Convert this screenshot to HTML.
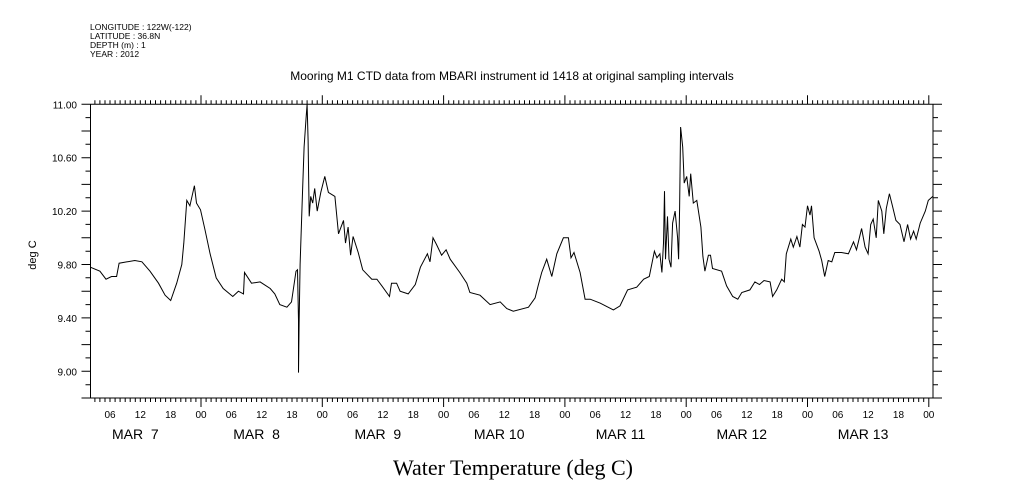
<!DOCTYPE html>
<html><head><meta charset="utf-8">
<style>
body{margin:0;background:#fff;}
svg{display:block;font-family:"Liberation Sans",sans-serif;}
.pre{white-space:pre;}
</style></head>
<body>
<svg id="chart" width="1009" height="504" viewBox="0 0 1009 504" xmlns="http://www.w3.org/2000/svg">
<rect width="1009" height="504" fill="#fff"/>
<g font-size="8.5" fill="#000">
<text x="90" y="30">LONGITUDE : 122W(-122)</text>
<text x="90" y="39">LATITUDE : 36.8N</text>
<text x="90" y="48">DEPTH (m) : 1</text>
<text x="90" y="57">YEAR : 2012</text>
</g>
<text x="512" y="80" font-size="12" text-anchor="middle">Mooring M1 CTD data from MBARI instrument id 1418 at original sampling intervals</text>
<text x="36" y="255" font-size="11" text-anchor="middle" transform="rotate(-90 36 255)">deg C</text>
<text x="513" y="475" font-size="22" text-anchor="middle" font-family="Liberation Serif, serif">Water Temperature (deg C)</text>
<g id="axes"></g>
<path id="series" fill="none" stroke="#000" stroke-width="1"/>
</svg>
<script>
const hours=[2.1,4.0,5.2,6.3,7.3,7.8,10.9,12.3,13.9,15.6,16.9,18.0,19.2,20.2,20.6,21.2,21.8,22.7,23.1,23.9,24.8,25.8,27.0,28.4,30.3,31.4,32.4,32.6,34.0,35.7,37.7,38.6,39.6,41.0,41.9,42.8,43.1,43.3,43.3,43.4,43.6,44.1,44.4,44.8,45.0,45.2,45.4,45.7,46.1,46.5,47.0,47.7,48.5,49.2,50.5,51.2,52.2,52.6,53.1,53.6,54.1,55.1,56.0,57.8,58.8,59.8,61.3,61.7,62.7,63.4,65.0,66.4,67.4,68.8,69.3,69.9,70.6,71.6,72.5,73.3,75.2,76.6,77.2,79.2,81.2,83.2,84.5,85.8,88.8,90.1,90.7,91.4,92.4,93.4,94.4,95.7,96.7,97.2,97.8,99.0,100.0,101.0,103.0,105.6,106.9,108.4,110.2,111.6,112.7,113.7,114.2,114.8,115.2,115.5,115.7,115.9,116.3,116.6,117.0,117.3,117.8,118.3,118.5,118.7,118.9,119.3,119.6,120.1,120.6,120.9,121.4,122.1,122.9,123.3,123.7,124.4,124.8,125.2,127.0,128.0,129.2,130.2,131.0,132.6,133.6,134.5,135.4,136.6,137.1,137.9,138.9,139.4,139.8,140.7,141.2,141.9,142.5,143.0,143.5,144.0,144.5,144.8,145.3,146.3,146.8,147.4,148.1,148.8,149.4,150.7,152.1,153.1,153.7,154.7,155.4,156.0,156.5,157.0,157.6,158.0,158.7,159.1,159.6,160.2,160.8,161.5,162.3,163.1,163.8,164.4,165.0,165.5,166.3,167.3,167.9,168.8];
const temps=[9.78,9.75,9.69,9.71,9.71,9.81,9.83,9.82,9.75,9.66,9.57,9.53,9.66,9.80,9.96,10.28,10.24,10.39,10.26,10.21,10.06,9.88,9.70,9.62,9.56,9.60,9.58,9.74,9.66,9.67,9.62,9.58,9.50,9.48,9.52,9.75,9.76,9.38,8.99,9.36,9.80,10.36,10.68,10.90,11.0,10.73,10.16,10.31,10.26,10.37,10.20,10.34,10.46,10.34,10.31,10.03,10.13,9.96,10.08,9.87,10.01,9.89,9.76,9.69,9.69,9.64,9.56,9.66,9.66,9.60,9.58,9.65,9.78,9.88,9.82,10.00,9.95,9.87,9.91,9.84,9.74,9.66,9.59,9.57,9.50,9.52,9.47,9.45,9.48,9.55,9.64,9.74,9.84,9.71,9.88,10.00,10.00,9.85,9.89,9.74,9.54,9.54,9.51,9.46,9.49,9.61,9.63,9.69,9.71,9.90,9.85,9.88,9.74,9.96,10.35,9.84,10.16,9.84,9.78,10.11,10.20,10.00,9.84,10.22,10.83,10.68,10.41,10.46,10.31,10.48,10.26,10.28,10.08,9.86,9.75,9.87,9.87,9.77,9.75,9.64,9.56,9.54,9.59,9.61,9.67,9.65,9.68,9.67,9.56,9.61,9.69,9.67,9.88,9.99,9.93,10.01,9.93,10.10,10.08,10.24,10.17,10.24,10.00,9.90,9.83,9.71,9.83,9.82,9.89,9.89,9.88,9.97,9.91,10.07,9.93,9.88,10.10,10.14,10.00,10.28,10.20,10.03,10.22,10.33,10.24,10.13,10.10,9.97,10.10,9.99,10.05,9.99,10.11,10.20,10.28,10.31];
const yTicks=[9.00,9.40,9.80,10.20,10.60,11.00];
const xTickLabels=["06","12","18","00"];
const dayLabels=["MAR  7","MAR  8","MAR  9","MAR 10","MAR 11","MAR 12","MAR 13"];

const L=90.5,R=933,T=104.3,B=398;
const X0=79.7,PXH=121.3/24;
const yMin=8.8,yMax=11.0;
const xs=h=>X0+h*PXH;
const ys=v=>B-(v-yMin)/(yMax-yMin)*(B-T);
const NS="http://www.w3.org/2000/svg";
const axes=document.getElementById('axes');
function mk(tag,attrs){const e=document.createElementNS(NS,tag);for(const k in attrs)e.setAttribute(k,attrs[k]);return e;}
let d=`M${L},${T}H${R}V${B}H${L}Z`;
const hStart=Math.ceil((L-X0)/PXH),hEnd=Math.floor((R-X0)/PXH);
for(let h=hStart;h<=hEnd;h++){const x=xs(h).toFixed(1);const big=h%24===0;const len=big?9:4;
d+=`M${x},${T}v${-len}M${x},${B}v${big?9:4}`;}
for(let i=0;i<=22;i++){const v=yMin+i*0.1;const y=ys(v).toFixed(1);const maj=(i%2===0);d+=`M${L},${y}h${maj?-9:-5}M${R},${y}h${maj?9:5}`;}
const fr=mk('path',{d:d,fill:'none',stroke:'#000','stroke-width':1});


axes.appendChild(fr);
yTicks.forEach(v=>{const t=mk('text',{x:77,y:ys(v)+4,'font-size':10,'text-anchor':'end'});t.textContent=v.toFixed(2);


axes.appendChild(t);});
for(let day=0;day<7;day++){xTickLabels.forEach((lab,i)=>{const h=day*24+(i+1)*6;const t=mk('text',{x:xs(h),y:418,'font-size':10,'text-anchor':'middle'});t.textContent=lab;


axes.appendChild(t);});
const m=mk('text',{x:xs(day*24+11),y:439,'font-size':14,'text-anchor':'middle','class':'pre'});m.textContent=dayLabels[day];


axes.appendChild(m);}
let p='';hours.forEach((h,i)=>{p+=(i?'L':'M')+xs(h).toFixed(1)+','+ys(temps[i]).toFixed(1);});
document.getElementById('series').setAttribute('d',p);
</script>
</body></html>
